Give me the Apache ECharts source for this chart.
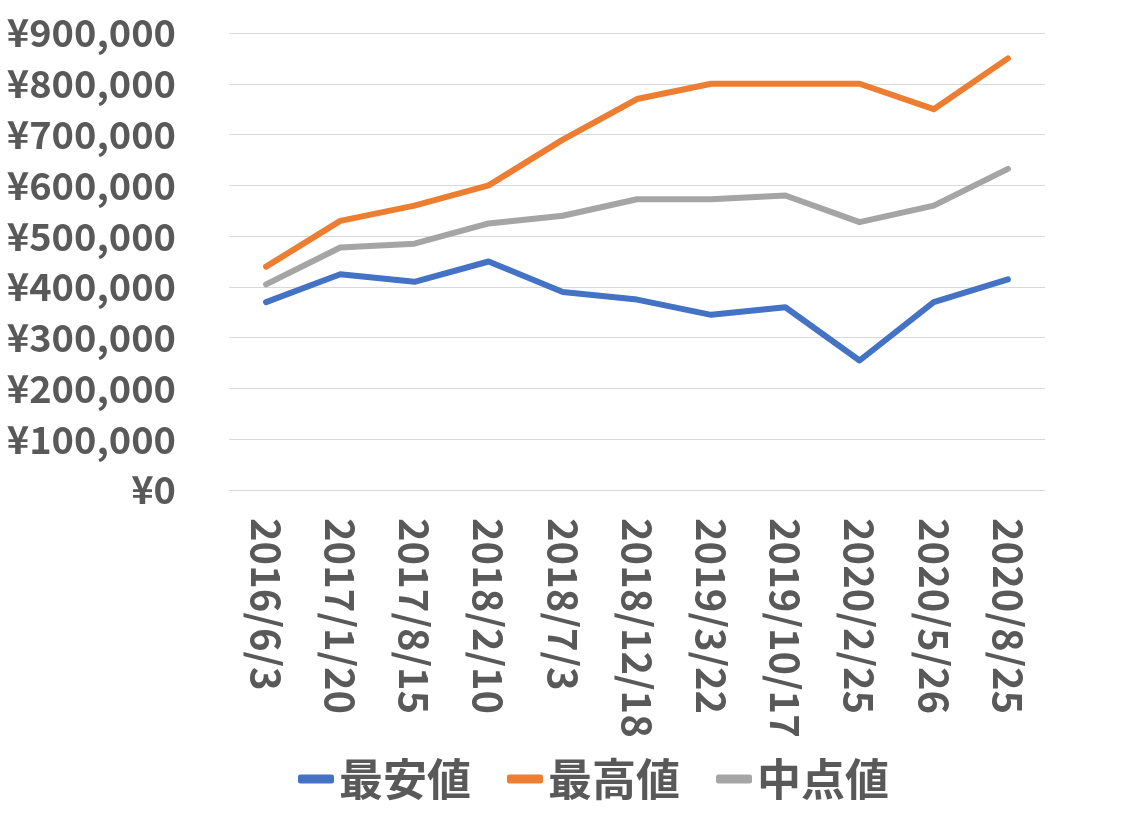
<!DOCTYPE html>
<html>
<head>
<meta charset="utf-8">
<script src="https://cdn.jsdelivr.net/npm/echarts@6/dist/echarts.min.js"></script>
<style>
  html, body { margin: 0; padding: 0; background: #fff; }
  #chart { width: 1127px; height: 815px; }
</style>
</head>
<body>
<div id="chart"></div>
<script>
// 日付（カテゴリ）
var dates = ['2016/6/3', '2017/1/20', '2017/8/15', '2018/2/10', '2018/7/3', '2018/12/18',
  '2019/3/22', '2019/10/17', '2020/2/25', '2020/5/26', '2020/8/25'];
// 最安値
var minValues = [370000, 425000, 410000, 450000, 390000, 375000, 345000, 360000, 255000, 370000, 415000];
// 最高値
var maxValues = [440000, 530000, 560000, 600000, 690000, 770000, 800000, 800000, 800000, 750000, 850000];
// 中点値
var midValues = [405000, 477500, 485000, 525000, 540000, 572500, 572500, 580000, 527500, 560000, 632500];

var seriesNames = ['最安値', '最高値', '中点値'];
var colors = ['#4472c4', '#ed7d31', '#a5a5a5'];

var FONT = '"Noto Sans CJK JP", "Noto Sans", sans-serif';
var TEXT = '#595959';

var chart = echarts.init(document.getElementById('chart'));

function yen(v) {
  return '¥' + v.toString().replace(/\B(?=(\d{3})+(?!\d))/g, ',');
}

function lineSeries(name, data, color) {
  return {
    name: name,
    type: 'line',
    data: data,
    symbol: 'none',
    lineStyle: { width: 6, color: color, cap: 'round', join: 'round' },
    itemStyle: { color: color },
    animation: false
  };
}

chart.setOption({
  animation: false,
  color: colors,
  grid: { left: 229, right: 82, top: 33, bottom: 325, containLabel: false },
  legend: {
    top: 752,
    left: 293,
    itemWidth: 36,
    itemHeight: 9,
    itemGap: 36,
    icon: 'roundRect',
    textStyle: { fontFamily: FONT, fontSize: 44, fontWeight: 'bold', color: TEXT },
    data: seriesNames
  },
  xAxis: {
    type: 'category',
    data: dates,
    boundaryGap: true,
    axisLine: { show: false },
    axisTick: { show: false },
    axisLabel: {
      rotate: -90,
      margin: 28,
      fontFamily: FONT,
      fontSize: 40,
      fontWeight: 'bold',
      color: TEXT
    }
  },
  yAxis: {
    type: 'value',
    min: 0,
    max: 900000,
    interval: 100000,
    axisLine: { show: false },
    axisTick: { show: false },
    splitLine: { lineStyle: { color: '#d9d9d9', width: 1 } },
    axisLabel: {
      margin: 53,
      fontFamily: FONT,
      fontSize: 38,
      fontWeight: 'bold',
      color: TEXT,
      formatter: yen
    }
  },
  series: [
    lineSeries(seriesNames[0], minValues, colors[0]),
    lineSeries(seriesNames[1], maxValues, colors[1]),
    lineSeries(seriesNames[2], midValues, colors[2])
  ]
});
</script>
</body>
</html>
